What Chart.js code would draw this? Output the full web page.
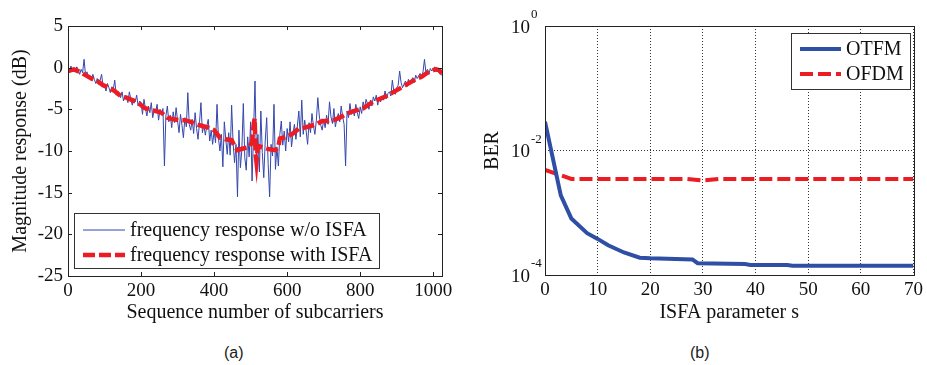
<!DOCTYPE html>
<html>
<head>
<meta charset="utf-8">
<script src="https://cdn.jsdelivr.net/npm/chart.js@4.4.1/dist/chart.umd.min.js"></script>
<style>
body { margin: 0; background: #fff; width: 927px; height: 365px; position: relative; overflow: hidden; }
#wrapA { position: absolute; left: 0; top: 0; width: 460px; height: 330px; }
#wrapB { position: absolute; left: 460px; top: 0; width: 467px; height: 330px; }
.cap { position: absolute; top: 345px; font: 16px "Liberation Sans", Arial, sans-serif; line-height: 16px; color: #222; }
</style>
</head>
<body>
<div id="wrapA"><canvas id="chartA"></canvas></div>
<div id="wrapB"><canvas id="chartB"></canvas></div>
<div class="cap" style="left:224px">(a)</div>
<div class="cap" style="left:690px">(b)</div>
<script>
// (a) frequency response, one value every 4 subcarriers
const subcarrierStep = 4;
const respNoIsfa = [
  -0.3, -0.6, 0.2, -0.5, -0.1,   -0.4, 0.1, -0.3, -0.8, -0.2,
  -0.6, 1.0, -0.9, -0.5, -1.3,   -1.0, -1.5, -0.8, -1.4, -1.9,
  -1.3, -2.0, -1.5, -0.8, -2.2,  -2.1, -2.8, -1.9, -2.4, -3.0,
  -2.3, -2.6, -1.5, -3.3, -2.8,  -3.0, -3.6, -2.9, -4.0, -3.3,
  -3.5, -4.2, -2.9, -3.8, -4.5,  -3.7, -4.1, -3.3, -4.6, -4.0,
  -4.2, -5.6, -3.8, -4.9, -5.8,  -4.6, -5.4, -4.2, -6.0, -5.0,
  -5.3, -4.4, -6.3, -5.0, -5.6,  -4.9, -11.8, -5.8, -4.6, -6.5,
  -5.7, -7.2, -5.3, -6.6, -4.8,  -6.4, -7.8, -5.6, -6.9, -8.4,
  -6.0, -7.1, -3.0, -6.8, -7.5,  -6.2, -7.9, -5.4, -7.3, -8.6,
  -6.6, -4.2, -7.8, -6.9, -8.1,  -7.0, -6.2, -8.8, -7.5, -9.2,
  -7.6, -9.0, -4.4, -8.5, -10.0, -8.0, -11.9, -6.5, -8.6, -10.4,
  -7.8, -10.5, -4.5, -9.0, -11.4, -9.2, -15.5, -7.5, -12.0, -9.8,
  -4.3, -10.8, -12.3, -8.3, -10.7, -6.5, -13.6, -7.8, -1.6, -11.0,
  -8.0, -12.5, -5.2, -10.2, -13.2, -8.8, -6.0, -11.5, -15.5, -9.2,
  -10.6, -4.4, -12.2, -9.5, -11.8, -8.0, -6.4, -9.3, -7.6, -10.0,
  -7.3, -8.9, -6.5, -9.5, -7.9,  -6.8, -8.6, -7.0, -5.2, -8.3,
  -3.9, -8.0, -6.3, -7.6, -9.2,  -6.6, -7.8, -5.5, -7.0, -8.0,
  -6.3, -3.6, -5.8, -6.9, -7.5,  -6.2, -7.2, -5.7, -6.8, -4.1,
  -5.9, -6.7, -4.9, -7.1, -6.2,  -5.5, -6.5, -4.6, -5.9, -6.8,
  -11.8, -5.2, -6.0, -4.3, -5.6, -5.0, -5.8, -4.4, -5.4, -6.1,
  -4.7, -5.5, -4.1, -4.9, -3.8,  -4.3, -5.0, -3.9, -4.6, -3.5,
  -4.0, -3.3, -4.5, -3.6, -4.1,  -3.4, -3.9, -2.8, -3.7, -3.1,
  -2.9, -3.4, -1.5, -2.8, -3.2,  -2.4, -2.1, -0.4, -1.8, -2.4,
  -2.0, -1.6, -2.3, -1.4, -1.9,  -1.5, -1.2, -1.8, -0.9, -1.3,
  -1.0, -0.7, -1.2, -0.5, 1.0,   -0.6, -0.2, -0.8, -0.1, -0.4,
  -0.2, 0.1, -0.5, -0.3, -0.6,   -0.8, -0.9
];
const isfaX = [0, 16, 32, 48, 64, 80, 96, 112, 128, 144, 160, 176, 192, 208, 224, 240, 256, 272, 288, 304,
  320, 336, 352, 368, 384, 400, 416, 432, 448, 456, 464, 480, 496, 504, 508, 511, 514, 516, 520, 536,
  552, 568, 576, 580, 600, 616, 632, 648, 664, 680, 696, 712, 728, 744, 760, 776, 792, 808, 824, 840,
  856, 872, 888, 904, 920, 936, 952, 968, 984, 1000, 1008, 1016, 1024];
const isfaY = [-0.4, -0.2, -0.5, -0.9, -1.3, -1.6, -2.1, -2.4, -2.8, -3.4, -3.6, -3.9, -4.2, -4.8, -5.1, -5.2, -5.4, -6.0, -6.2, -6.3,
  -6.3, -6.5, -6.8, -7.0, -7.2, -7.5, -8.4, -8.6, -8.7, -9.4, -9.9, -9.7, -9.5, -9.0, -7.0, -6.1, -10.5, -11.3, -9.4, -9.6,
  -9.8, -9.9, -9.5, -8.5, -8.3, -7.9, -7.3, -7.2, -7.0, -6.8, -6.4, -6.4, -6.3, -6.0, -5.6, -5.3, -5.1, -4.9, -4.4, -4.0,
  -3.7, -3.4, -3.0, -2.6, -2.2, -1.8, -1.4, -1.1, -0.6, -0.3, -0.2, -0.3, -0.7];
const xTicksA = [0, 200, 400, 600, 800, 1000];
const yTicksA = [5, 0, -5, -10, -15, -20, -25];

// (b) BER against ISFA parameter s
const otfmS = [0, 3, 5, 8, 10, 12, 15, 18, 20, 28, 29, 38, 39, 46, 47, 70];
const otfmBer = [2.9e-2, 1.9e-3, 8.1e-4, 4.7e-4, 3.8e-4, 3.0e-4, 2.3e-4, 1.9e-4, 1.85e-4, 1.78e-4, 1.55e-4, 1.5e-4, 1.45e-4, 1.45e-4, 1.41e-4, 1.41e-4];
const ofdmS = [0, 5, 27, 30, 33, 70];
const ofdmBer = [4.9e-3, 3.5e-3, 3.5e-3, 3.3e-3, 3.5e-3, 3.5e-3];
const xTicksB = [0, 10, 20, 30, 40, 50, 60, 70];
const berTicks = [1e-4, 1e-2, 1];
const berExp = ['-4', '-2', '0'];

const serif = '"Liberation Serif", "Times New Roman", serif';
const ink = '#111';

const boxTicks = {
  id: 'boxTicks',
  afterDatasetsDraw(chart, args, o) {
    const { ctx, chartArea: a } = chart;
    ctx.save();
    ctx.strokeStyle = '#222';
    ctx.lineWidth = 1;
    ctx.setLineDash([]);
    ctx.strokeRect(Math.round(a.left) + 0.5, Math.round(a.top) + 0.5, Math.round(a.right - a.left), Math.round(a.bottom - a.top));
    if (o.len) {
      ctx.beginPath();
      chart.scales.x.ticks.forEach(t => {
        const x = Math.round(chart.scales.x.getPixelForValue(t.value)) + 0.5;
        ctx.moveTo(x, a.bottom); ctx.lineTo(x, a.bottom - o.len);
        ctx.moveTo(x, a.top); ctx.lineTo(x, a.top + o.len);
      });
      chart.scales.y.ticks.forEach(t => {
        const y = Math.round(chart.scales.y.getPixelForValue(t.value)) + 0.5;
        ctx.moveTo(a.left, y); ctx.lineTo(a.left + o.len, y);
        ctx.moveTo(a.right, y); ctx.lineTo(a.right - o.len, y);
      });
      ctx.stroke();
    }
    ctx.restore();
  }
};

const frameLegend = {
  id: 'frameLegend',
  afterDraw(chart, args, o) {
    const ctx = chart.ctx;
    ctx.save();
    ctx.fillStyle = '#fff';
    ctx.fillRect(o.x, o.y, o.w, o.h);
    ctx.strokeStyle = '#333';
    ctx.lineWidth = 1;
    ctx.strokeRect(o.x + 0.5, o.y + 0.5, o.w, o.h);
    chart.data.datasets.forEach((ds, i) => {
      const y = o.rowY[i];
      ctx.strokeStyle = ds.borderColor;
      ctx.lineWidth = ds.borderWidth;
      ctx.setLineDash(ds.borderDash || []);
      ctx.beginPath();
      ctx.moveTo(o.x1, y);
      ctx.lineTo(o.x2, y);
      ctx.stroke();
      ctx.setLineDash([]);
      ctx.fillStyle = ink;
      ctx.font = '20px ' + serif;
      ctx.textAlign = 'left';
      ctx.textBaseline = 'middle';
      ctx.fillText(ds.label, o.tx, y + 1);
    });
    ctx.restore();
  }
};

const powerLabels = {
  id: 'powerLabels',
  afterDraw(chart, args, o) {
    const ctx = chart.ctx;
    const s = chart.scales.y;
    ctx.save();
    ctx.fillStyle = ink;
    ctx.textBaseline = 'middle';
    berTicks.forEach((v, i) => {
      const y = s.getPixelForValue(v);
      ctx.font = '19px ' + serif;
      ctx.textAlign = 'right';
      ctx.fillText('10', o.x, y + 2);
      ctx.font = '13px ' + serif;
      ctx.textAlign = 'left';
      ctx.fillText(berExp[i], o.x + 1, y - 11);
    });
    ctx.restore();
  }
};

new Chart(document.getElementById('chartA'), {
  type: 'line',
  data: {
    datasets: [{
      label: 'frequency response w/o ISFA',
      data: respNoIsfa.map((v, i) => ({ x: i * subcarrierStep, y: v })),
      borderColor: '#3446ad',
      borderWidth: 1,
      order: 1
    }, {
      label: 'frequency response with ISFA',
      data: isfaX.map((x, i) => ({ x: x, y: isfaY[i] })),
      borderColor: '#ec1c24',
      borderWidth: 4.5,
      borderDash: [12, 4],
      order: 0
    }]
  },
  options: {
    responsive: true,
    maintainAspectRatio: false,
    animation: false,
    layout: { padding: { top: 26, right: 18, left: 0, bottom: 0 } },
    elements: { point: { radius: 0 }, line: { tension: 0 } },
    plugins: {
      legend: { display: false },
      tooltip: { enabled: false },
      boxTicks: { len: 4 },
      frameLegend: { x: 74, y: 213, w: 305, h: 55, rowY: [230, 255], x1: 83, x2: 125, tx: 130 }
    },
    scales: {
      x: {
        type: 'linear', min: 0, max: 1024,
        afterBuildTicks: s => { s.ticks = xTicksA.map(v => ({ value: v })); },
        afterFit: s => { s.height = 54; },
        grid: { display: false, drawTicks: false },
        border: { display: false },
        ticks: { font: { family: serif, size: 19 }, color: ink, padding: 4, maxRotation: 0, autoSkip: false, callback: v => String(v) },
        title: { display: true, text: 'Sequence number of subcarriers', font: { family: serif, size: 20 }, color: ink, padding: { top: 0, bottom: 5 } }
      },
      y: {
        min: -25, max: 5,
        afterBuildTicks: s => { s.ticks = yTicksA.map(v => ({ value: v })); },
        afterFit: s => { s.width = 68; },
        grid: { display: false, drawTicks: false },
        border: { display: false },
        ticks: { font: { family: serif, size: 19 }, color: ink, padding: 5, callback: v => String(v) },
        title: { display: true, text: 'Magnitude response (dB)', font: { family: serif, size: 20 }, color: ink, padding: { top: 9, bottom: 0 } }
      }
    }
  },
  plugins: [boxTicks, frameLegend]
});

new Chart(document.getElementById('chartB'), {
  type: 'line',
  data: {
    datasets: [{
      label: 'OTFM',
      data: otfmS.map((s, i) => ({ x: s, y: otfmBer[i] })),
      borderColor: '#2f4fa5',
      borderWidth: 4
    }, {
      label: 'OFDM',
      data: ofdmS.map((s, i) => ({ x: s, y: ofdmBer[i] })),
      borderColor: '#ec1c24',
      borderWidth: 4,
      borderDash: [13, 5]
    }]
  },
  options: {
    responsive: true,
    maintainAspectRatio: false,
    animation: false,
    layout: { padding: { top: 26, right: 11, left: 0, bottom: 0 } },
    elements: { point: { radius: 0 }, line: { tension: 0 } },
    plugins: {
      legend: { display: false },
      tooltip: { enabled: false },
      boxTicks: { len: 0 },
      powerLabels: { x: 70 },
      frameLegend: { x: 331, y: 33, w: 119, h: 56, rowY: [49, 74], x1: 340, x2: 381, tx: 386 }
    },
    scales: {
      x: {
        type: 'linear', min: 0, max: 70,
        afterBuildTicks: s => { s.ticks = xTicksB.map(v => ({ value: v })); },
        afterFit: s => { s.height = 55; },
        grid: { color: '#333', lineWidth: 1, drawTicks: false },
        border: { display: false, dash: [1, 2] },
        ticks: { font: { family: serif, size: 19 }, color: ink, padding: 4, maxRotation: 0, autoSkip: false, callback: v => String(v) },
        title: { display: true, text: 'ISFA parameter s', font: { family: serif, size: 20 }, color: ink, padding: { top: 0, bottom: 5 } }
      },
      y: {
        type: 'logarithmic', min: 1e-4, max: 1,
        afterBuildTicks: s => { s.ticks = berTicks.map(v => ({ value: v })); },
        afterFit: s => { s.width = 85; },
        grid: { color: '#333', lineWidth: 1, drawTicks: false },
        border: { display: false, dash: [1, 2] },
        ticks: { callback: () => '' },
        title: { display: true, text: 'BER', font: { family: serif, size: 20 }, color: ink, padding: { top: 21, bottom: 0 } }
      }
    }
  },
  plugins: [boxTicks, powerLabels, frameLegend]
});
</script>
</body>
</html>
